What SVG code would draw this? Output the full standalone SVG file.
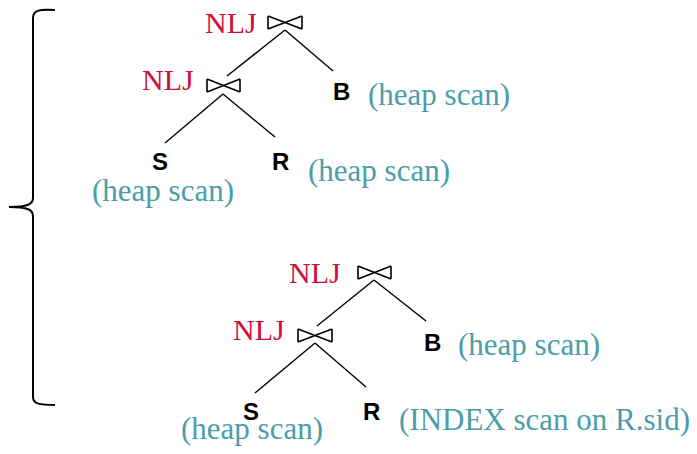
<svg xmlns="http://www.w3.org/2000/svg" width="697" height="454" viewBox="0 0 697 454">
<defs>
<style>
.nlj{font-family:"Liberation Serif",serif;font-size:30px;fill:#d0103a}
.scan{font-family:"Liberation Serif",serif;font-size:31px;fill:#4a9ea9}
.rel{font-family:"Liberation Sans",sans-serif;font-size:24px;font-weight:bold;fill:#000}
.edge{stroke:#000;stroke-width:1.4;fill:none}
.bow{stroke:#000;stroke-width:1.6;fill:none}
</style>
</defs>
<rect width="697" height="454" fill="#fff"/>
<path d="M55,10 C40,9 33,10 33,18 L33,198 C33,204 28,207 9,207 C28,207 33,210 33,216 L33,397 C33,404 40,405 55,405" fill="none" stroke="#000" stroke-width="2"/>
<g id="connectors">
<line class="edge" x1="285" y1="30" x2="227" y2="76"/>
<line class="edge" x1="285" y1="30" x2="333" y2="71"/>
<line class="edge" x1="223" y1="94" x2="165" y2="143"/>
<line class="edge" x1="223" y1="94" x2="275" y2="137"/>
<line class="edge" x1="374" y1="280" x2="317" y2="326"/>
<line class="edge" x1="374" y1="280" x2="426" y2="321"/>
<line class="edge" x1="315" y1="343" x2="255" y2="393"/>
<line class="edge" x1="315" y1="343" x2="366" y2="387"/>
</g>
<g id="join1">
<text class="nlj" x="205" y="33">NLJ</text>
<path class="bow" d="M268,16 L302,29 M302,16 L268,29 M268,16 V29 M302,16 V29"/>
</g>
<g id="join2">
<text class="nlj" x="142" y="90">NLJ</text>
<path class="bow" d="M207,79 L240,92 M240,79 L207,92 M207,79 V92 M240,79 V92"/>
</g>
<g id="B1">
<text class="rel" x="333" y="100">B</text>
<text class="scan" x="368" y="105">(heap scan)</text>
</g>
<g id="S1">
<text class="rel" x="152" y="170">S</text>
<text class="scan" x="92" y="201">(heap scan)</text>
</g>
<g id="R1">
<text class="rel" x="272" y="170">R</text>
<text class="scan" x="308" y="181">(heap scan)</text>
</g>
<g id="join3">
<text class="nlj" x="289" y="283">NLJ</text>
<path class="bow" d="M358,266 L391,279 M391,266 L358,279 M358,266 V279 M391,266 V279"/>
</g>
<g id="join4">
<text class="nlj" x="233" y="340">NLJ</text>
<path class="bow" d="M298,329 L332,342 M332,329 L298,342 M298,329 V342 M332,329 V342"/>
</g>
<g id="B2">
<text class="rel" x="424" y="351">B</text>
<text class="scan" x="458" y="355">(heap scan)</text>
</g>
<g id="S2">
<text class="rel" x="243" y="420">S</text>
<text class="scan" x="181" y="439">(heap scan)</text>
</g>
<g id="R2">
<text class="rel" x="363" y="420">R</text>
<text class="scan" x="399" y="430">(INDEX scan on R.sid)</text>
</g>
</svg>
